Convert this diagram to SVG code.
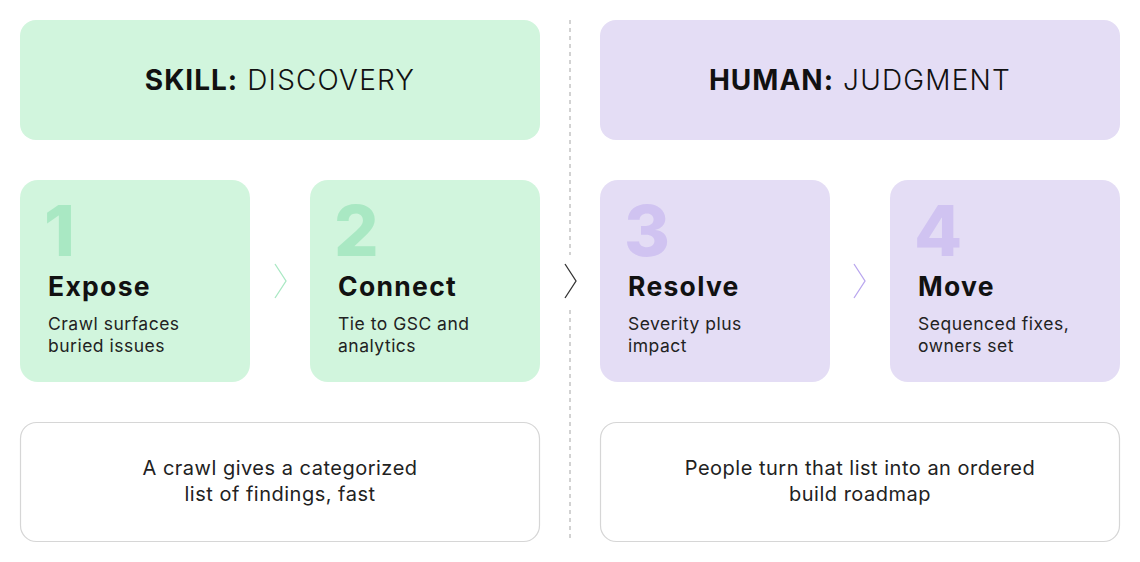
<svg xmlns="http://www.w3.org/2000/svg" width="1140" height="562" viewBox="0 0 1140 562">
<style>
text{font-family:"Inter","Open Sans","Liberation Sans",sans-serif;fill:#111}
.g{fill:#d1f5dd}
.p{fill:#e4ddf5}
.note{fill:#fff;stroke:#d6d6d6;stroke-width:1.2}
.hb{font-size:28px;font-weight:700;letter-spacing:1px}
.hl{font-size:28px;font-weight:300;letter-spacing:1.2px}
.num{font-size:70px;font-weight:800}
.ng{fill:#a9e8c3}
.np{fill:#d0c3f1}
.ttl{font-size:26.5px;font-weight:700;letter-spacing:1.3px}
.d{font-size:17.5px;font-weight:400;fill:#222;letter-spacing:0.5px}
.n{font-size:20px;font-weight:400;fill:#222;letter-spacing:0.5px}
.chev{fill:none;stroke-width:1.3}
</style>
<rect width="1140" height="562" fill="#fff"/>
<g id="divider">
<line x1="570" y1="20" x2="570" y2="255" stroke="#b5b5b5" stroke-width="1.2" stroke-dasharray="4,4"/>
<line x1="570" y1="310" x2="570" y2="542" stroke="#b5b5b5" stroke-width="1.2" stroke-dasharray="4,4"/>
</g>
<g id="header-skill">
<rect class="g" x="20" y="20" width="520" height="120" rx="16"/>
<text x="280" y="90" text-anchor="middle"><tspan class="hb">SKILL:</tspan><tspan class="hl"> DISCOVERY</tspan></text>
</g>
<g id="header-human">
<rect class="p" x="600" y="20" width="520" height="120" rx="16"/>
<text x="860" y="90" text-anchor="middle"><tspan class="hb">HUMAN:</tspan><tspan class="hl"> JUDGMENT</tspan></text>
</g>
<g id="step1">
<rect class="g" x="20" y="180" width="230" height="202" rx="18"/>
<text class="num ng" x="44" y="256">1</text>
<text class="ttl" x="48" y="296">Expose</text>
<text class="d" x="48" y="330">Crawl surfaces</text>
<text class="d" x="48" y="352">buried issues</text>
</g>
<g id="step2">
<rect class="g" x="310" y="180" width="230" height="202" rx="18"/>
<text class="num ng" x="334" y="256">2</text>
<text class="ttl" x="338" y="296">Connect</text>
<text class="d" x="338" y="330">Tie to GSC and</text>
<text class="d" x="338" y="352">analytics</text>
</g>
<g id="step3">
<rect class="p" x="600" y="180" width="230" height="202" rx="18"/>
<text class="num np" x="624" y="256">3</text>
<text class="ttl" x="628" y="296">Resolve</text>
<text class="d" x="628" y="330">Severity plus</text>
<text class="d" x="628" y="352">impact</text>
</g>
<g id="step4">
<rect class="p" x="890" y="180" width="230" height="202" rx="18"/>
<text class="num np" x="914" y="256">4</text>
<text class="ttl" x="918" y="296">Move</text>
<text class="d" x="918" y="330">Sequenced fixes,</text>
<text class="d" x="918" y="352">owners set</text>
</g>
<g id="note-skill">
<rect class="note" x="20.5" y="422.5" width="519" height="119" rx="16"/>
<text class="n" x="280" y="475" text-anchor="middle">A crawl gives a categorized</text>
<text class="n" x="280" y="501" text-anchor="middle">list of findings, fast</text>
</g>
<g id="note-human">
<rect class="note" x="600.5" y="422.5" width="519" height="119" rx="16"/>
<text class="n" x="860" y="475" text-anchor="middle">People turn that list into an ordered</text>
<text class="n" x="860" y="501" text-anchor="middle">build roadmap</text>
</g>
<g id="connectors">
<polyline class="chev" points="275,264 286,281 275,298" stroke="#a9e8c3"/>
<polyline class="chev" points="565,264 576,281 565,298" stroke="#333"/>
<polyline class="chev" points="854,264 865,281 854,298" stroke="#b9a6ee"/>
</g>
</svg>
